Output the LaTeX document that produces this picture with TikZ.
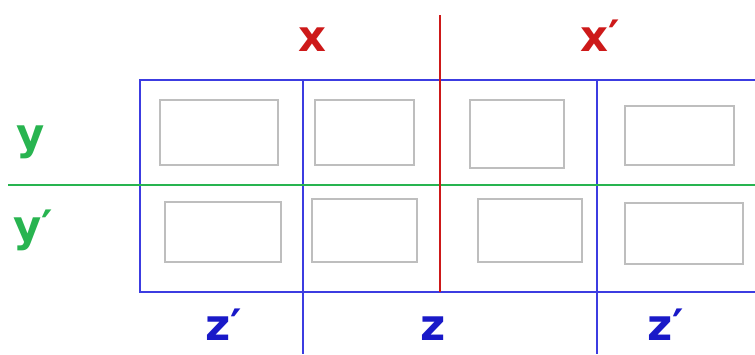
\documentclass[tikz,border=0pt]{standalone}
\usepackage{fontspec}
\setmainfont{DejaVu Sans}
\definecolor{gridblue}{RGB}{60,60,225}
\definecolor{labelblue}{RGB}{25,25,200}
\definecolor{splitred}{RGB}{205,25,25}
\definecolor{splitgreen}{RGB}{40,180,80}
\definecolor{cellgray}{RGB}{190,190,190}
\newcommand{\px}{0.03cm}
\begin{document}
\begin{tikzpicture}[
        x=\px, y=-\px,
        cellbox/.style={rectangle, draw=cellgray, line width=1.2pt, inner sep=0pt},
        bluerule/.style={draw=gridblue, line width=1.7pt},
        letter/.style={font=\fontsize{37}{37}\selectfont\bfseries, inner sep=0pt},
        ]
                \useasboundingbox (0,0) rectangle (755,354);

                % cells, top row
                \node[cellbox, minimum width=118*\px, minimum height=65*\px] at(219,132.5) (c1) {};
                \node[cellbox, minimum width=99*\px,  minimum height=65*\px] at(364.5,132.5) (c2) {};
                \node[cellbox, minimum width=94*\px,  minimum height=68*\px] at(517,134) (c3) {};
                \node[cellbox, minimum width=109*\px, minimum height=59*\px] at(679.5,135.5) (c4) {};
                % cells, bottom row
                \node[cellbox, minimum width=116*\px, minimum height=60*\px] at(223,232) (c5) {};
                \node[cellbox, minimum width=105*\px, minimum height=63*\px] at(364.5,230.5) (c6) {};
                \node[cellbox, minimum width=104*\px, minimum height=63*\px] at(530,230.5) (c7) {};
                \node[cellbox, minimum width=118*\px, minimum height=61*\px] at(684,233.5) (c8) {};

                % frame
                \draw[bluerule] (755,80) -- (140,80) -- (140,292) -- (755,292);
                \draw[bluerule] (303,80) -- (303,354);
                \draw[bluerule] (597,80) -- (597,354);

                % splits
                \draw[draw=splitgreen, line width=1.7pt] (8,185) -- (755,185);
                \draw[draw=splitred, line width=1.7pt] (440,15) -- (440,292);

                % labels
                \node[letter, text=splitred]   at(312,40) (lx)  {x};
                \node[letter, text=splitred]   at(600,36) (lxn) {x′};
                \node[letter, text=splitgreen] at(31,142) (ly)  {y};
                \node[letter, text=splitgreen] at(33,230) (lyn) {y′};
                \node[letter, text=labelblue]  at(224,325) (lzn) {z′};
                \node[letter, text=labelblue]  at(433,329) (lz)  {z};
                \node[letter, text=labelblue]  at(666,325) (lzr) {z′};
            \end{tikzpicture}
\end{document}
